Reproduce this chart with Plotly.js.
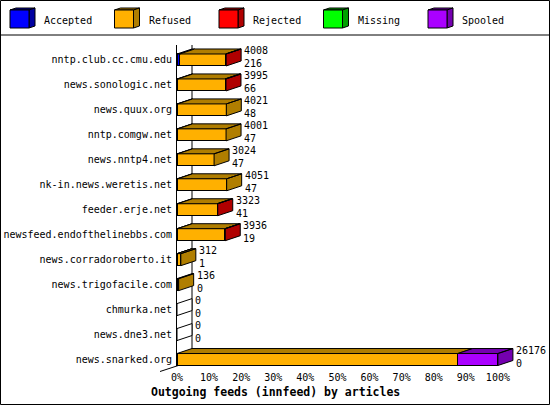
<!DOCTYPE html>
<html>
<head>
<meta charset="utf-8">
<script src="https://cdn.plot.ly/plotly-3.0.1.min.js"></script>
<style>body{margin:0;background:#fff}</style>
</head>
<body>
<div id="chart" style="width:550px;height:405px"></div>
<script>
var hosts = ['nntp.club.cc.cmu.edu', 'news.sonologic.net', 'news.quux.org', 'nntp.comgw.net',
  'news.nntp4.net', 'nk-in.news.weretis.net', 'feeder.erje.net', 'newsfeed.endofthelinebbs.com',
  'news.corradoroberto.it', 'news.trigofacile.com', 'chmurka.net', 'news.dne3.net', 'news.snarked.org'];
var offered  = [4008, 3995, 4021, 4001, 3024, 4051, 3323, 3936, 312, 136, 0, 0, 26176];
var accepted = [216, 66, 48, 47, 47, 47, 41, 19, 1, 0, 0, 0, 0];
var refused  = [3752, 3849, 3973, 3954, 2977, 4004, 3222, 3877, 311, 136, 0, 0, 22904];
var rejected = [40, 80, 0, 0, 0, 0, 60, 40, 0, 0, 0, 0, 0];
var missing  = [0, 0, 0, 0, 0, 0, 0, 0, 0, 0, 0, 0, 0];
var spooled  = [0, 0, 0, 0, 0, 0, 0, 0, 0, 0, 0, 0, 3272];
var xticks = [0, 10, 20, 30, 40, 50, 60, 70, 80, 90, 100];

var names  = ['Accepted', 'Refused', 'Rejected', 'Missing', 'Spooled'];
var colors = ['#0000ff', '#ffb000', '#ff0000', '#00ff00', '#aa00ff'];
var darks  = ['#0000a0', '#b07e00', '#b00000', '#00a000', '#7400b0'];
var series = [accepted, refused, rejected, missing, spooled];

var font = 'DejaVu Sans Mono, monospace';
var maxOff = Math.max.apply(null, offered);
var rows = hosts.map(function(h, i) { return i; });

// plot box in pixels
var ML = 177, MT = 45, PW = 353, PH = 321;
var XMAX = 110, YTOP = -0.6, YBOT = 12.26;
var DX = 15 * XMAX / PW;            // 3d depth, x units
var DY = 5 * (YBOT - YTOP) / PH;    // 3d depth, row units
var HB = 0.24;                      // half bar height

function px(p) { return (p - ML) / PW; }
function py(p) { return (MT + PH - p) / PH; }
function pct(v) { return v / maxOff * 100; }
function poly(pts) {
  return 'M' + pts.map(function(p) { return p[0] + ',' + p[1]; }).join('L') + 'Z';
}

var data = [];
for (var k = 0; k < series.length; k++) {
  data.push({
    type: 'bar', orientation: 'h', name: names[k],
    y: rows, x: series[k].map(pct), width: HB * 2,
    marker: {color: colors[k], line: {color: '#000', width: 1}},
    showlegend: false, hoverinfo: 'skip'
  });
}

// 3d faces: one filled scatter per dark colour, polygons split by nulls
var faces = darks.map(function() { return {x: [], y: []}; });
var blank = {x: [], y: []};
function addFace(f, pts) {
  pts.forEach(function(p) { f.x.push(p[0]); f.y.push(p[1]); });
  f.x.push(pts[0][0]); f.y.push(pts[0][1]);
  f.x.push(null); f.y.push(null);
}

var annotations = [];
for (var i = 0; i < rows.length; i++) {
  var xs = 0, lastK = -1;
  var yFront = i - HB;
  for (var k = 0; k < series.length; k++) {
    var w = pct(series[k][i]);
    if (w <= 0) continue;
    addFace(faces[k], [[xs, yFront], [xs + w, yFront], [xs + w + DX, yFront - DY], [xs + DX, yFront - DY]]);
    xs += w;
    lastK = k;
  }
  addFace(lastK >= 0 ? faces[lastK] : blank,
    [[xs, i + HB], [xs, yFront], [xs + DX, yFront - DY], [xs + DX, i + HB - DY]]);
  annotations.push({x: xs, y: i, xref: 'x', yref: 'y', xanchor: 'left', yanchor: 'middle',
    xshift: 16, yshift: 3, showarrow: false, align: 'left',
    text: offered[i] + '<br>' + accepted[i], font: {family: font, size: 10, color: '#000'}});
}
faces.concat([blank]).forEach(function(f, k) {
  if (!f.x.length) return;
  data.push({type: 'scatter', mode: 'lines', x: f.x, y: f.y, fill: 'toself',
    fillcolor: k < darks.length ? darks[k] : '#fff', line: {color: '#000', width: 1},
    showlegend: false, hoverinfo: 'skip'});
});

var shapes = [];
// back wall line
shapes.push({type: 'line', layer: 'below', xref: 'x', yref: 'y', x0: DX, x1: DX, y0: YTOP, y1: YBOT - DY,
  line: {color: '#000', width: 1}});
// floor diagonal at lower left
shapes.push({type: 'line', layer: 'below', xref: 'paper', yref: 'paper',
  x0: px(160), y0: py(371.5), x1: px(192), y1: py(361), line: {color: '#000', width: 1}});

// title under the axis
annotations.push({xref: 'paper', yref: 'paper', x: px(275), y: py(392), xanchor: 'center',
  yanchor: 'middle', showarrow: false, text: '<b>Outgoing feeds (innfeed) by articles</b>',
  font: {family: font, size: 11.5, color: '#000'}});

// legend header with cubes
shapes.push({type: 'line', xref: 'paper', yref: 'paper', x0: px(0), x1: px(550), y0: py(35), y1: py(35),
  line: {color: '#000', width: 1}});
for (var k = 0; k < names.length; k++) {
  var lx = 10 + k * 104.5;
  shapes.push({type: 'path', xref: 'paper', yref: 'paper', fillcolor: darks[k], line: {color: '#000', width: 1},
    path: poly([[px(lx), py(10)], [px(lx + 19), py(10)], [px(lx + 25), py(8)], [px(lx + 6), py(8)]])});
  shapes.push({type: 'path', xref: 'paper', yref: 'paper', fillcolor: darks[k], line: {color: '#000', width: 1},
    path: poly([[px(lx + 19), py(10)], [px(lx + 25), py(8)], [px(lx + 25), py(26)], [px(lx + 19), py(28)]])});
  shapes.push({type: 'rect', xref: 'paper', yref: 'paper', fillcolor: colors[k], line: {color: '#000', width: 1},
    x0: px(lx), x1: px(lx + 19), y0: py(10), y1: py(28)});
  annotations.push({xref: 'paper', yref: 'paper', x: px(lx + 32), y: py(20), xanchor: 'left',
    yanchor: 'middle', showarrow: false, text: names[k], font: {family: font, size: 10, color: '#000'}});
}
// outer frame
shapes.push({type: 'rect', xref: 'paper', yref: 'paper', x0: px(0.5), x1: px(549.5), y0: py(0.5), y1: py(404.5),
  line: {color: '#000', width: 1}});

var layout = {
  width: 550, height: 405,
  margin: {l: ML, r: 550 - ML - PW, t: MT, b: 405 - MT - PH, pad: 0},
  paper_bgcolor: '#fff', plot_bgcolor: '#fff',
  barmode: 'stack', showlegend: false,
  font: {family: font, size: 10, color: '#000'},
  xaxis: {range: [0, XMAX], tickmode: 'array', tickvals: xticks,
    ticktext: xticks.map(function(v) { return v + '%'; }),
    ticks: 'outside', ticklen: 2, tickcolor: 'rgba(0,0,0,0)',
    showgrid: false, zeroline: false, showline: false, fixedrange: true},
  yaxis: {range: [YBOT, YTOP], tickmode: 'array', tickvals: rows, ticktext: hosts,
    ticks: 'outside', ticklen: 2, tickcolor: 'rgba(0,0,0,0)',
    showgrid: false, zeroline: false, showline: true, linecolor: '#000', linewidth: 1, fixedrange: true},
  shapes: shapes,
  annotations: annotations
};

Plotly.newPlot(document.getElementById('chart'), data, layout, {staticPlot: true});
</script>
</body>
</html>
